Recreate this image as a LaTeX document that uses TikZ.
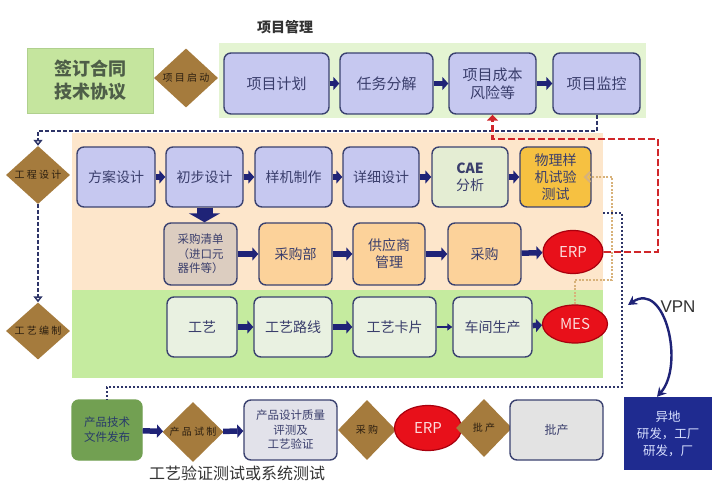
\documentclass[tikz,border=0pt]{standalone}
\usepackage{fontspec}
\setmainfont{Noto Sans CJK SC}
\newfontfamily\vpnfont{Liberation Sans}
\usetikzlibrary{shapes.geometric,arrows.meta}

\definecolor{titlegray}{HTML}{333333}
\definecolor{pmgreen}{HTML}{E4F4D2}
\definecolor{signgreen}{HTML}{C5E59E}
\definecolor{signline}{HTML}{B0D08E}
\definecolor{signtext}{HTML}{4E5E48}
\definecolor{lavender}{HTML}{C6C8F0}
\definecolor{boxline}{HTML}{3B4270}
\definecolor{boxtext}{HTML}{3A3E6C}
\definecolor{engorange}{HTML}{FDE6CB}
\definecolor{craftgreen}{HTML}{C5EB9F}
\definecolor{caegreen}{HTML}{E4EDD3}
\definecolor{testgold}{HTML}{F6C141}
\definecolor{bomtan}{HTML}{DCCDC0}
\definecolor{buyorange}{HTML}{FCD29A}
\definecolor{craftbox}{HTML}{E9F1E1}
\definecolor{gatebrown}{HTML}{A57B3D}
\definecolor{gatetext}{HTML}{2B1E10}
\definecolor{erpred}{HTML}{E8101A}
\definecolor{erpline}{HTML}{A8000E}
\definecolor{erptext}{HTML}{FBDADA}
\definecolor{arrowblue}{HTML}{1F2377}
\definecolor{dashnavy}{HTML}{2E3568}
\definecolor{linkred}{HTML}{D0262A}
\definecolor{testtan}{HTML}{D8B27A}
\definecolor{docgreen}{HTML}{72A052}
\definecolor{doctext}{HTML}{283A6A}
\definecolor{evalgray}{HTML}{E2E2EA}
\definecolor{massgray}{HTML}{E3E3E3}
\definecolor{remoteblue}{HTML}{1F2B90}
\definecolor{remotetext}{HTML}{D8E0FF}

\tikzset{
  stepbox/.style={draw=boxline, line width=1.4pt, rounded corners=7pt, align=center, inner sep=1pt, text=boxtext},
  pmbox/.style={stepbox, fill=lavender, minimum height=61pt, font=\fontsize{15}{18}\selectfont},
  engbox/.style={stepbox, minimum height=60pt, font=\fontsize{14}{17}\selectfont},
  buybox/.style={stepbox, minimum height=62pt, fill=buyorange, font=\fontsize{14}{17}\selectfont},
  gate/.style={diamond, fill=gatebrown, inner sep=0pt, text=gatetext, font=\fontsize{10}{12}\selectfont},
  sysnode/.style={ellipse, fill=erpred, draw=erpline, line width=1.2pt, text=erptext, inner sep=0pt, font=\fontsize{15}{17}\selectfont},
  flow/.style={draw=arrowblue, line width=5.5pt, -{Triangle[length=6pt,width=13pt]}},
  thinflow/.style={draw=arrowblue, line width=2pt, -{Triangle[length=5pt,width=7pt]}},
  dashflow/.style={draw=dashnavy, line width=2pt, dash pattern=on 4pt off 2pt, -{Triangle[open,length=6pt,width=9pt]}},
  erpflow/.style={draw=linkred, line width=2.8pt, dash pattern=on 7pt off 3pt, -{Triangle[length=6pt,width=11pt]}},
  testflow/.style={draw=testtan, line width=2.2pt, dash pattern=on 2pt off 1.5pt, -{Straight Barb[length=5pt,width=10pt]}},
  relflow/.style={draw=dashnavy, line width=2.4pt, dash pattern=on 2pt off 2pt},
  vpnlink/.style={draw=arrowblue, line width=2.4pt, {Stealth[length=9pt,width=10pt]}-{Stealth[length=9pt,width=10pt]}}
}

\begin{document}
\begin{tikzpicture}[x=1pt,y=-1pt]
    \useasboundingbox[fill=white] (0,0) rectangle (720,489);

    \node[font=\bfseries\fontsize{14}{16}\selectfont, text=titlegray] (pmtitle) at (285,27) {项目管理};
    \fill[pmgreen] (219,43) rectangle (646,118);
    \node[draw=signline, fill=signgreen, minimum width=126pt, minimum height=65pt, align=center, text=signtext, font=\bfseries\fontsize{18}{23}\selectfont] (contract) at (90,80.5) {签订合同\\技术协议};
    \node[gate, minimum width=64pt, minimum height=59pt] (kickoff) at (186,78) {项~目~启~动};
    \node[pmbox, minimum width=105pt] (plan) at (276.5,83.5) {项目计划};
    \node[pmbox, minimum width=93pt] (wbs) at (386.5,83.5) {任务分解};
    \node[pmbox, minimum width=87pt] (cost) at (492.5,83.5) {项目成本\\风险等};
    \node[pmbox, minimum width=87pt] (monitor) at (596.5,83.5) {项目监控};
    \draw[flow] (plan) -- (wbs);
    \draw[flow] (wbs) -- (cost);
    \draw[flow] (cost) -- (monitor);

    \fill[engorange] (72,133) rectangle (603,290);
    \fill[craftgreen] (72,290) rectangle (603,378);
    \node[gate, minimum width=64pt, minimum height=58pt] (engdesign) at (38,175) {工~程~设~计};
    \node[gate, minimum width=64pt, minimum height=57pt] (craftplan) at (38,331) {工~艺~编~制};

    \node[engbox, fill=lavender, minimum width=78pt] (scheme) at (116,177) {方案设计};
    \node[engbox, fill=lavender, minimum width=77pt] (prelim) at (204.5,177) {初步设计};
    \node[engbox, fill=lavender, minimum width=77pt] (proto) at (293.5,177) {样机制作};
    \node[engbox, fill=lavender, minimum width=76pt] (detail) at (381,177) {详细设计};
    \node[engbox, fill=caegreen, minimum width=76pt] (cae) at (470,177) {\textbf{CAE}\\分析};
    \node[engbox, fill=testgold, minimum width=71pt] (phys) at (555.5,177) {物理样\\机试验\\测试};
    \draw[flow] (scheme) -- (prelim);
    \draw[flow] (prelim) -- (proto);
    \draw[flow] (proto) -- (detail);
    \draw[flow] (detail) -- (cae);
    \draw[flow] (cae) -- (phys);

    \node[stepbox, fill=bomtan, minimum width=73pt, minimum height=62pt, font=\fontsize{11.5}{14.5}\selectfont] (bom) at (200.5,254) {采购清单\\（进口元\\器件等）};
    \node[buybox, minimum width=73pt] (pdept) at (295.5,254) {采购部};
    \node[buybox, minimum width=72pt] (supplier) at (389,254) {供应商\\管理};
    \node[buybox, minimum width=73pt] (purchase) at (484.5,254) {采购};
    \node[sysnode, minimum width=60pt, minimum height=43pt] (erp) at (573,252) {ERP};
    \draw[draw=arrowblue, line width=16pt, -{Triangle[length=9pt,width=31pt]}] (prelim.south) -- (prelim.south |- bom.north);
    \draw[flow] (bom) -- (pdept);
    \draw[flow] (pdept) -- (supplier);
    \draw[flow] (supplier) -- (purchase);
    \draw[flow] (purchase) -- (erp);

    \node[engbox, fill=craftbox, minimum width=70pt] (craft) at (202,327) {工艺};
    \node[engbox, fill=craftbox, minimum width=78pt] (route) at (293,327) {工艺路线};
    \node[engbox, fill=craftbox, minimum width=83pt] (card) at (394.5,327) {工艺卡片};
    \node[engbox, fill=craftbox, minimum width=79pt] (shop) at (492.5,327) {车间生产};
    \node[sysnode, minimum width=65pt, minimum height=38pt] (mes) at (575,324) {MES};
    \draw[flow] (craft) -- (route);
    \draw[flow] (route) -- (card);
    \draw[thinflow] (card) -- (shop);
    \draw[flow] (shop) -- (mes);

    \node[stepbox, fill=docgreen, draw=docgreen, minimum width=70pt, minimum height=60pt, text=doctext, font=\fontsize{11.5}{15}\selectfont] (doc) at (107,430) {产品技术\\文件发布};
    \node[gate, minimum width=61pt, minimum height=60pt] (trial) at (193,432) {产~品~试~制};
    \node[stepbox, fill=evalgray, minimum width=93pt, minimum height=60pt, font=\fontsize{11.5}{14.5}\selectfont] (eval) at (290.5,430) {产品设计质量\\评测及\\工艺验证};
    \node[gate, minimum width=58pt, minimum height=60pt] (buy) at (367,430) {采~购};
    \node[sysnode, minimum width=67pt, minimum height=45pt] (erpb) at (428,428) {ERP};
    \node[gate, minimum width=56pt, minimum height=58pt] (mass) at (484,428) {批~产};
    \node[stepbox, fill=massgray, minimum width=93pt, minimum height=60pt, font=\fontsize{12}{14}\selectfont] (massbox) at (556.5,430) {批产};
    \draw[flow] (doc) -- (trial);
    \draw[flow] (trial) -- (eval);
    \node[font=\fontsize{16}{18}\selectfont, text=titlegray] (verify) at (237,473) {工艺验证测试或系统测试};

    \node[fill=remoteblue, minimum width=88pt, minimum height=73pt, align=center, text=remotetext, font=\fontsize{12.5}{17}\selectfont] (remote) at (668,433.5) {异地\\研发，工厂\\研发，厂};
    \node[font=\vpnfont\fontsize{17}{19}\selectfont, text=titlegray] (vpn) at (678,307) {VPN};
    \coordinate (vpntip) at (628,305);
    \draw[vpnlink] (vpntip) .. controls (665,280) and (685,365) .. ([xshift=-11pt]remote.north);

    \draw[dashflow] (monitor.south) -- ++(0,16) -| (engdesign.north);
    \draw[dashflow] (engdesign.south) -- (craftplan.north);
    \coordinate (redturn) at (658,139);
    \draw[erpflow] (erp.east) -| (redturn) -| (cost.south);
    \coordinate (tanturn) at (612,280);
    \draw[testflow, shorten >=-8pt] (mes.north) |- (tanturn) |- (phys.east);
    \coordinate (dotstart) at (603,213);
    \coordinate (dotcorner) at (622,387);
    \draw[relflow] (dotstart) -| (dotcorner) -| (doc.north);
\end{tikzpicture}
\end{document}
